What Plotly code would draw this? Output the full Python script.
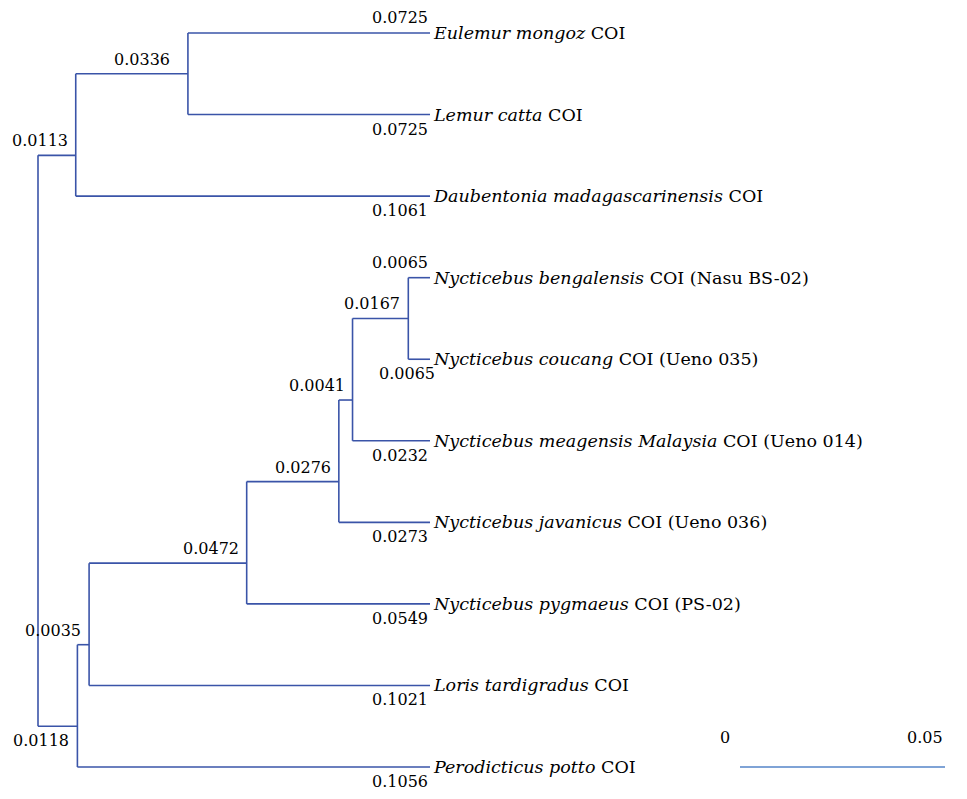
import plotly.graph_objects as go

# ---------------- data ----------------
leaf_labels = [
    "<i>Eulemur mongoz</i> COI",
    "<i>Lemur catta</i> COI",
    "<i>Daubentonia madagascarinensis</i> COI",
    "<i>Nycticebus bengalensis</i> COI (Nasu BS-02)",
    "<i>Nycticebus coucang</i> COI (Ueno 035)",
    "<i>Nycticebus meagensis Malaysia</i> COI (Ueno 014)",
    "<i>Nycticebus javanicus</i> COI (Ueno 036)",
    "<i>Nycticebus pygmaeus</i> COI (PS-02)",
    "<i>Loris tardigradus</i> COI",
    "<i>Perodicticus potto</i> COI",
]
leaf_lengths = [0.0725, 0.0725, 0.1061, 0.0065, 0.0065, 0.0232, 0.0273, 0.0549, 0.1021, 0.1056]

node_ids = ["A", "B", "C", "D", "E", "F", "G", "H"]
node_lengths = [0.0113, 0.0336, 0.0118, 0.0035, 0.0472, 0.0276, 0.0041, 0.0167]
# children: internal node ids or leaf indices
node_children = {
    "root": ["A", "C"],
    "A": ["B", 2],
    "B": [0, 1],
    "C": ["D", 9],
    "D": ["E", 8],
    "E": ["F", 7],
    "F": ["G", 6],
    "G": ["H", 5],
    "H": [3, 4],
}
scale_bar = [0, 0.05]
scale_labels = ["0", "0.05"]

# ---------------- layout of tree ----------------
length_of = dict(zip(node_ids, node_lengths))
pos = {}


def place(node, x0):
    if isinstance(node, int):
        x = x0 + leaf_lengths[node]
        pos[node] = (x, float(node))
        return pos[node]
    x = x0 + (length_of.get(node, 0.0))
    ys = [place(c, x)[1] for c in node_children[node]]
    pos[node] = (x, ys[-1] - 0.5)
    return pos[node]


place("root", 0.0)
parent = {}
for p, ch in node_children.items():
    for c in ch:
        parent[c] = p

xs, ys = [], []
for n, (x, y) in pos.items():
    if n != "root":
        px = pos[parent[n]][0]
        xs += [px, x, None]
        ys += [y, y, None]
for n, ch in node_children.items():
    x = pos[n][0]
    xs += [x, x, None]
    ys += [pos[ch[0]][1], pos[ch[-1]][1], None]

TREE = "#3a54a8"
FONT = "DejaVu Serif"
NUM = dict(family=FONT, size=16, color="black")
LAB = dict(family=FONT, size=17.5, color="black")
fig = go.Figure()
fig.add_trace(go.Scatter(x=xs, y=ys, mode="lines", line=dict(color=TREE, width=1.6),
                         hoverinfo="skip", showlegend=False))

ann = []
# leaf names and leaf branch lengths
for i, lab in enumerate(leaf_labels):
    x, y = pos[i]
    ann.append(dict(x=x, y=y, text=lab, xanchor="left", yanchor="middle", xshift=1,
                    showarrow=False, font=LAB))
    above = i in (0, 3)
    ann.append(dict(x=x, y=y, text=f"{leaf_lengths[i]:.4f}", xanchor="right",
                    yanchor="bottom" if above else "top",
                    yshift=4 if above else -3, xshift=(7 if i == 4 else 0),
                    showarrow=False, font=NUM))
# internal branch lengths
for n in node_ids:
    x, y = pos[n]
    below = n == "C"
    ann.append(dict(x=x, y=y, text=f"{length_of[n]:.4f}", xanchor="right",
                    yanchor="top" if below else "bottom",
                    yshift=-3 if below else 3, xshift=(-16 if n == "B" else -6),
                    showarrow=False, font=NUM))

# scale bar on its own axis
fig.add_trace(go.Scatter(x=scale_bar, y=[9, 9], xaxis="x2", yaxis="y", mode="lines",
                         line=dict(color="#5585c8", width=1.6), hoverinfo="skip", showlegend=False))
for v, t, sh in zip(scale_bar, scale_labels, [-8, 0]):
    ann.append(dict(x=v, y=9, xref="x2", yref="y", text=t, xanchor="right", yanchor="middle",
                    xshift=sh, yshift=30, showarrow=False, font=NUM))

# page body has an 8px margin, so the figure is 8px smaller and shifted
W, H = 959, 791
fig.update_layout(
    width=W, height=H, margin=dict(l=0, r=0, t=0, b=0),
    paper_bgcolor="white", plot_bgcolor="white",
    xaxis=dict(range=[-30 / 3339, (W - 30) / 3339], visible=False, domain=[0, 1]),
    xaxis2=dict(range=[0, 0.05], domain=[732 / W, 937 / W], anchor="y", visible=False),
    yaxis=dict(range=[(H - 25) / 81.56, -25 / 81.56], visible=False),
    annotations=ann,
)
fig.write_html("out.html")
